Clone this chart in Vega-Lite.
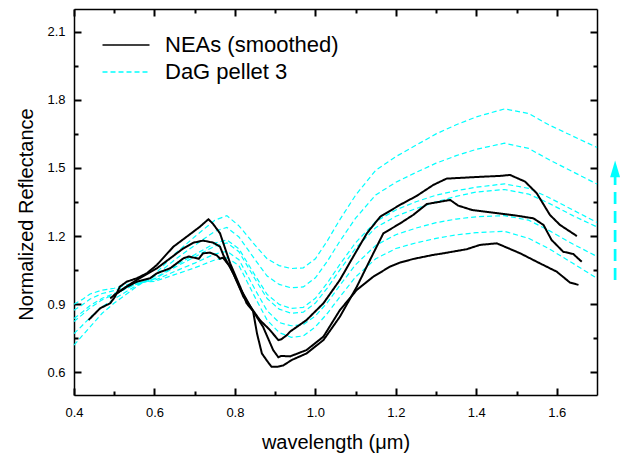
{
  "$schema": "https://vega.github.io/schema/vega-lite/v6.json",
  "width": 523,
  "height": 386,
  "autosize": "none",
  "padding": {"left": 74, "top": 9, "right": 31, "bottom": 58},
  "background": "white",
  "config": {"view": {"stroke": null}, "font": "Liberation Sans"},
  "datasets": {
    "lines": [
      {"series":"DaG pellet 3","curve":"C1","w":0.40,"r":0.72},{"series":"DaG pellet 3","curve":"C1","w":0.42,"r":0.76},{"series":"DaG pellet 3","curve":"C1","w":0.44,"r":0.80},{"series":"DaG pellet 3","curve":"C1","w":0.47,"r":0.86},{"series":"DaG pellet 3","curve":"C1","w":0.50,"r":0.905},{"series":"DaG pellet 3","curve":"C1","w":0.55,"r":0.97},{"series":"DaG pellet 3","curve":"C1","w":0.60,"r":1.03},{"series":"DaG pellet 3","curve":"C1","w":0.65,"r":1.12},{"series":"DaG pellet 3","curve":"C1","w":0.70,"r":1.197},{"series":"DaG pellet 3","curve":"C1","w":0.75,"r":1.27},{"series":"DaG pellet 3","curve":"C1","w":0.78,"r":1.29},{"series":"DaG pellet 3","curve":"C1","w":0.81,"r":1.245},{"series":"DaG pellet 3","curve":"C1","w":0.85,"r":1.16},{"series":"DaG pellet 3","curve":"C1","w":0.88,"r":1.10},{"series":"DaG pellet 3","curve":"C1","w":0.91,"r":1.07},{"series":"DaG pellet 3","curve":"C1","w":0.94,"r":1.057},{"series":"DaG pellet 3","curve":"C1","w":0.97,"r":1.06},{"series":"DaG pellet 3","curve":"C1","w":1.00,"r":1.10},{"series":"DaG pellet 3","curve":"C1","w":1.03,"r":1.18},{"series":"DaG pellet 3","curve":"C1","w":1.06,"r":1.27},{"series":"DaG pellet 3","curve":"C1","w":1.10,"r":1.38},{"series":"DaG pellet 3","curve":"C1","w":1.15,"r":1.49},{"series":"DaG pellet 3","curve":"C1","w":1.20,"r":1.55},{"series":"DaG pellet 3","curve":"C1","w":1.25,"r":1.60},{"series":"DaG pellet 3","curve":"C1","w":1.30,"r":1.65},{"series":"DaG pellet 3","curve":"C1","w":1.35,"r":1.69},{"series":"DaG pellet 3","curve":"C1","w":1.40,"r":1.725},{"series":"DaG pellet 3","curve":"C1","w":1.47,"r":1.76},{"series":"DaG pellet 3","curve":"C1","w":1.53,"r":1.74},{"series":"DaG pellet 3","curve":"C1","w":1.58,"r":1.69},{"series":"DaG pellet 3","curve":"C1","w":1.64,"r":1.64},{"series":"DaG pellet 3","curve":"C1","w":1.70,"r":1.59},
      {"series":"DaG pellet 3","curve":"C2","w":0.40,"r":0.77},{"series":"DaG pellet 3","curve":"C2","w":0.42,"r":0.805},{"series":"DaG pellet 3","curve":"C2","w":0.44,"r":0.841},{"series":"DaG pellet 3","curve":"C2","w":0.47,"r":0.889},{"series":"DaG pellet 3","curve":"C2","w":0.50,"r":0.923},{"series":"DaG pellet 3","curve":"C2","w":0.55,"r":0.977},{"series":"DaG pellet 3","curve":"C2","w":0.60,"r":1.022},{"series":"DaG pellet 3","curve":"C2","w":0.65,"r":1.095},{"series":"DaG pellet 3","curve":"C2","w":0.70,"r":1.159},{"series":"DaG pellet 3","curve":"C2","w":0.75,"r":1.221},{"series":"DaG pellet 3","curve":"C2","w":0.78,"r":1.238},{"series":"DaG pellet 3","curve":"C2","w":0.81,"r":1.196},{"series":"DaG pellet 3","curve":"C2","w":0.85,"r":1.096},{"series":"DaG pellet 3","curve":"C2","w":0.88,"r":1.024},{"series":"DaG pellet 3","curve":"C2","w":0.91,"r":0.987},{"series":"DaG pellet 3","curve":"C2","w":0.94,"r":0.972},{"series":"DaG pellet 3","curve":"C2","w":0.97,"r":0.976},{"series":"DaG pellet 3","curve":"C2","w":1.00,"r":1.016},{"series":"DaG pellet 3","curve":"C2","w":1.03,"r":1.09},{"series":"DaG pellet 3","curve":"C2","w":1.06,"r":1.175},{"series":"DaG pellet 3","curve":"C2","w":1.10,"r":1.279},{"series":"DaG pellet 3","curve":"C2","w":1.15,"r":1.381},{"series":"DaG pellet 3","curve":"C2","w":1.20,"r":1.437},{"series":"DaG pellet 3","curve":"C2","w":1.25,"r":1.48},{"series":"DaG pellet 3","curve":"C2","w":1.30,"r":1.521},{"series":"DaG pellet 3","curve":"C2","w":1.35,"r":1.554},{"series":"DaG pellet 3","curve":"C2","w":1.40,"r":1.582},{"series":"DaG pellet 3","curve":"C2","w":1.47,"r":1.609},{"series":"DaG pellet 3","curve":"C2","w":1.53,"r":1.586},{"series":"DaG pellet 3","curve":"C2","w":1.58,"r":1.537},{"series":"DaG pellet 3","curve":"C2","w":1.64,"r":1.483},{"series":"DaG pellet 3","curve":"C2","w":1.70,"r":1.429},
      {"series":"DaG pellet 3","curve":"C3","w":0.40,"r":0.824},{"series":"DaG pellet 3","curve":"C3","w":0.42,"r":0.853},{"series":"DaG pellet 3","curve":"C3","w":0.44,"r":0.884},{"series":"DaG pellet 3","curve":"C3","w":0.47,"r":0.919},{"series":"DaG pellet 3","curve":"C3","w":0.50,"r":0.943},{"series":"DaG pellet 3","curve":"C3","w":0.55,"r":0.985},{"series":"DaG pellet 3","curve":"C3","w":0.60,"r":1.013},{"series":"DaG pellet 3","curve":"C3","w":0.65,"r":1.068},{"series":"DaG pellet 3","curve":"C3","w":0.70,"r":1.118},{"series":"DaG pellet 3","curve":"C3","w":0.75,"r":1.169},{"series":"DaG pellet 3","curve":"C3","w":0.78,"r":1.183},{"series":"DaG pellet 3","curve":"C3","w":0.81,"r":1.144},{"series":"DaG pellet 3","curve":"C3","w":0.85,"r":1.027},{"series":"DaG pellet 3","curve":"C3","w":0.88,"r":0.943},{"series":"DaG pellet 3","curve":"C3","w":0.91,"r":0.899},{"series":"DaG pellet 3","curve":"C3","w":0.94,"r":0.881},{"series":"DaG pellet 3","curve":"C3","w":0.97,"r":0.886},{"series":"DaG pellet 3","curve":"C3","w":1.00,"r":0.926},{"series":"DaG pellet 3","curve":"C3","w":1.03,"r":0.994},{"series":"DaG pellet 3","curve":"C3","w":1.06,"r":1.073},{"series":"DaG pellet 3","curve":"C3","w":1.10,"r":1.171},{"series":"DaG pellet 3","curve":"C3","w":1.15,"r":1.264},{"series":"DaG pellet 3","curve":"C3","w":1.20,"r":1.315},{"series":"DaG pellet 3","curve":"C3","w":1.25,"r":1.351},{"series":"DaG pellet 3","curve":"C3","w":1.30,"r":1.38},{"series":"DaG pellet 3","curve":"C3","w":1.35,"r":1.40},{"series":"DaG pellet 3","curve":"C3","w":1.40,"r":1.415},{"series":"DaG pellet 3","curve":"C3","w":1.47,"r":1.43},{"series":"DaG pellet 3","curve":"C3","w":1.53,"r":1.41},{"series":"DaG pellet 3","curve":"C3","w":1.58,"r":1.37},{"series":"DaG pellet 3","curve":"C3","w":1.64,"r":1.315},{"series":"DaG pellet 3","curve":"C3","w":1.70,"r":1.26},
      {"series":"DaG pellet 3","curve":"C4","w":0.40,"r":0.837},{"series":"DaG pellet 3","curve":"C4","w":0.42,"r":0.864},{"series":"DaG pellet 3","curve":"C4","w":0.44,"r":0.894},{"series":"DaG pellet 3","curve":"C4","w":0.47,"r":0.926},{"series":"DaG pellet 3","curve":"C4","w":0.50,"r":0.947},{"series":"DaG pellet 3","curve":"C4","w":0.55,"r":0.986},{"series":"DaG pellet 3","curve":"C4","w":0.60,"r":1.011},{"series":"DaG pellet 3","curve":"C4","w":0.65,"r":1.062},{"series":"DaG pellet 3","curve":"C4","w":0.70,"r":1.108},{"series":"DaG pellet 3","curve":"C4","w":0.75,"r":1.156},{"series":"DaG pellet 3","curve":"C4","w":0.78,"r":1.17},{"series":"DaG pellet 3","curve":"C4","w":0.81,"r":1.131},{"series":"DaG pellet 3","curve":"C4","w":0.85,"r":1.011},{"series":"DaG pellet 3","curve":"C4","w":0.88,"r":0.925},{"series":"DaG pellet 3","curve":"C4","w":0.91,"r":0.878},{"series":"DaG pellet 3","curve":"C4","w":0.94,"r":0.86},{"series":"DaG pellet 3","curve":"C4","w":0.97,"r":0.865},{"series":"DaG pellet 3","curve":"C4","w":1.00,"r":0.905},{"series":"DaG pellet 3","curve":"C4","w":1.03,"r":0.972},{"series":"DaG pellet 3","curve":"C4","w":1.06,"r":1.049},{"series":"DaG pellet 3","curve":"C4","w":1.10,"r":1.146},{"series":"DaG pellet 3","curve":"C4","w":1.15,"r":1.237},{"series":"DaG pellet 3","curve":"C4","w":1.20,"r":1.287},{"series":"DaG pellet 3","curve":"C4","w":1.25,"r":1.321},{"series":"DaG pellet 3","curve":"C4","w":1.30,"r":1.351},{"series":"DaG pellet 3","curve":"C4","w":1.35,"r":1.375},{"series":"DaG pellet 3","curve":"C4","w":1.40,"r":1.394},{"series":"DaG pellet 3","curve":"C4","w":1.47,"r":1.405},{"series":"DaG pellet 3","curve":"C4","w":1.53,"r":1.385},{"series":"DaG pellet 3","curve":"C4","w":1.58,"r":1.345},{"series":"DaG pellet 3","curve":"C4","w":1.64,"r":1.29},{"series":"DaG pellet 3","curve":"C4","w":1.70,"r":1.24},
      {"series":"DaG pellet 3","curve":"C5","w":0.40,"r":0.873},{"series":"DaG pellet 3","curve":"C5","w":0.42,"r":0.896},{"series":"DaG pellet 3","curve":"C5","w":0.44,"r":0.923},{"series":"DaG pellet 3","curve":"C5","w":0.47,"r":0.947},{"series":"DaG pellet 3","curve":"C5","w":0.50,"r":0.96},{"series":"DaG pellet 3","curve":"C5","w":0.55,"r":0.991},{"series":"DaG pellet 3","curve":"C5","w":0.60,"r":1.005},{"series":"DaG pellet 3","curve":"C5","w":0.65,"r":1.044},{"series":"DaG pellet 3","curve":"C5","w":0.70,"r":1.081},{"series":"DaG pellet 3","curve":"C5","w":0.75,"r":1.121},{"series":"DaG pellet 3","curve":"C5","w":0.78,"r":1.133},{"series":"DaG pellet 3","curve":"C5","w":0.81,"r":1.096},{"series":"DaG pellet 3","curve":"C5","w":0.85,"r":0.965},{"series":"DaG pellet 3","curve":"C5","w":0.88,"r":0.871},{"series":"DaG pellet 3","curve":"C5","w":0.91,"r":0.819},{"series":"DaG pellet 3","curve":"C5","w":0.94,"r":0.805},{"series":"DaG pellet 3","curve":"C5","w":0.97,"r":0.81},{"series":"DaG pellet 3","curve":"C5","w":1.00,"r":0.848},{"series":"DaG pellet 3","curve":"C5","w":1.03,"r":0.908},{"series":"DaG pellet 3","curve":"C5","w":1.06,"r":0.981},{"series":"DaG pellet 3","curve":"C5","w":1.10,"r":1.074},{"series":"DaG pellet 3","curve":"C5","w":1.15,"r":1.159},{"series":"DaG pellet 3","curve":"C5","w":1.20,"r":1.206},{"series":"DaG pellet 3","curve":"C5","w":1.25,"r":1.235},{"series":"DaG pellet 3","curve":"C5","w":1.30,"r":1.259},{"series":"DaG pellet 3","curve":"C5","w":1.35,"r":1.275},{"series":"DaG pellet 3","curve":"C5","w":1.40,"r":1.285},{"series":"DaG pellet 3","curve":"C5","w":1.47,"r":1.29},{"series":"DaG pellet 3","curve":"C5","w":1.53,"r":1.27},{"series":"DaG pellet 3","curve":"C5","w":1.58,"r":1.225},{"series":"DaG pellet 3","curve":"C5","w":1.64,"r":1.165},{"series":"DaG pellet 3","curve":"C5","w":1.70,"r":1.11},
      {"series":"DaG pellet 3","curve":"C6","w":0.40,"r":0.90},{"series":"DaG pellet 3","curve":"C6","w":0.42,"r":0.92},{"series":"DaG pellet 3","curve":"C6","w":0.44,"r":0.945},{"series":"DaG pellet 3","curve":"C6","w":0.47,"r":0.962},{"series":"DaG pellet 3","curve":"C6","w":0.50,"r":0.97},{"series":"DaG pellet 3","curve":"C6","w":0.55,"r":0.995},{"series":"DaG pellet 3","curve":"C6","w":0.60,"r":1.00},{"series":"DaG pellet 3","curve":"C6","w":0.65,"r":1.03},{"series":"DaG pellet 3","curve":"C6","w":0.70,"r":1.06},{"series":"DaG pellet 3","curve":"C6","w":0.75,"r":1.095},{"series":"DaG pellet 3","curve":"C6","w":0.78,"r":1.105},{"series":"DaG pellet 3","curve":"C6","w":0.81,"r":1.07},{"series":"DaG pellet 3","curve":"C6","w":0.85,"r":0.93},{"series":"DaG pellet 3","curve":"C6","w":0.88,"r":0.83},{"series":"DaG pellet 3","curve":"C6","w":0.91,"r":0.775},{"series":"DaG pellet 3","curve":"C6","w":0.94,"r":0.754},{"series":"DaG pellet 3","curve":"C6","w":0.97,"r":0.76},{"series":"DaG pellet 3","curve":"C6","w":1.00,"r":0.80},{"series":"DaG pellet 3","curve":"C6","w":1.03,"r":0.86},{"series":"DaG pellet 3","curve":"C6","w":1.06,"r":0.93},{"series":"DaG pellet 3","curve":"C6","w":1.10,"r":1.02},{"series":"DaG pellet 3","curve":"C6","w":1.15,"r":1.10},{"series":"DaG pellet 3","curve":"C6","w":1.20,"r":1.145},{"series":"DaG pellet 3","curve":"C6","w":1.25,"r":1.17},{"series":"DaG pellet 3","curve":"C6","w":1.30,"r":1.19},{"series":"DaG pellet 3","curve":"C6","w":1.35,"r":1.205},{"series":"DaG pellet 3","curve":"C6","w":1.40,"r":1.215},{"series":"DaG pellet 3","curve":"C6","w":1.47,"r":1.221},{"series":"DaG pellet 3","curve":"C6","w":1.53,"r":1.19},{"series":"DaG pellet 3","curve":"C6","w":1.58,"r":1.145},{"series":"DaG pellet 3","curve":"C6","w":1.64,"r":1.08},{"series":"DaG pellet 3","curve":"C6","w":1.70,"r":1.014},
      {"series":"NEAs (smoothed)","curve":"N1","w":0.436,"r":0.83},{"series":"NEAs (smoothed)","curve":"N1","w":0.45,"r":0.855},{"series":"NEAs (smoothed)","curve":"N1","w":0.465,"r":0.882},{"series":"NEAs (smoothed)","curve":"N1","w":0.49,"r":0.904},{"series":"NEAs (smoothed)","curve":"N1","w":0.502,"r":0.933},{"series":"NEAs (smoothed)","curve":"N1","w":0.514,"r":0.977},{"series":"NEAs (smoothed)","curve":"N1","w":0.531,"r":0.999},{"series":"NEAs (smoothed)","curve":"N1","w":0.556,"r":1.014},{"series":"NEAs (smoothed)","curve":"N1","w":0.581,"r":1.036},{"series":"NEAs (smoothed)","curve":"N1","w":0.606,"r":1.073},{"series":"NEAs (smoothed)","curve":"N1","w":0.647,"r":1.153},{"series":"NEAs (smoothed)","curve":"N1","w":0.68,"r":1.197},{"series":"NEAs (smoothed)","curve":"N1","w":0.713,"r":1.241},{"series":"NEAs (smoothed)","curve":"N1","w":0.734,"r":1.274},{"series":"NEAs (smoothed)","curve":"N1","w":0.745,"r":1.255},{"series":"NEAs (smoothed)","curve":"N1","w":0.763,"r":1.212},{"series":"NEAs (smoothed)","curve":"N1","w":0.788,"r":1.08},{"series":"NEAs (smoothed)","curve":"N1","w":0.813,"r":0.977},{"series":"NEAs (smoothed)","curve":"N1","w":0.829,"r":0.904},{"series":"NEAs (smoothed)","curve":"N1","w":0.845,"r":0.87},{"series":"NEAs (smoothed)","curve":"N1","w":0.855,"r":0.77},{"series":"NEAs (smoothed)","curve":"N1","w":0.867,"r":0.683},{"series":"NEAs (smoothed)","curve":"N1","w":0.88,"r":0.65},{"series":"NEAs (smoothed)","curve":"N1","w":0.891,"r":0.624},{"series":"NEAs (smoothed)","curve":"N1","w":0.908,"r":0.625},{"series":"NEAs (smoothed)","curve":"N1","w":0.92,"r":0.63},{"series":"NEAs (smoothed)","curve":"N1","w":0.941,"r":0.654},{"series":"NEAs (smoothed)","curve":"N1","w":0.978,"r":0.683},{"series":"NEAs (smoothed)","curve":"N1","w":1.02,"r":0.742},{"series":"NEAs (smoothed)","curve":"N1","w":1.061,"r":0.845},{"series":"NEAs (smoothed)","curve":"N1","w":1.103,"r":0.977},{"series":"NEAs (smoothed)","curve":"N1","w":1.144,"r":1.124},{"series":"NEAs (smoothed)","curve":"N1","w":1.169,"r":1.212},{"series":"NEAs (smoothed)","curve":"N1","w":1.21,"r":1.255},{"series":"NEAs (smoothed)","curve":"N1","w":1.243,"r":1.293},{"series":"NEAs (smoothed)","curve":"N1","w":1.277,"r":1.341},{"series":"NEAs (smoothed)","curve":"N1","w":1.335,"r":1.359},{"series":"NEAs (smoothed)","curve":"N1","w":1.355,"r":1.334},{"series":"NEAs (smoothed)","curve":"N1","w":1.389,"r":1.315},{"series":"NEAs (smoothed)","curve":"N1","w":1.442,"r":1.303},{"series":"NEAs (smoothed)","curve":"N1","w":1.50,"r":1.29},{"series":"NEAs (smoothed)","curve":"N1","w":1.542,"r":1.278},{"series":"NEAs (smoothed)","curve":"N1","w":1.567,"r":1.249},{"series":"NEAs (smoothed)","curve":"N1","w":1.587,"r":1.183},{"series":"NEAs (smoothed)","curve":"N1","w":1.616,"r":1.131},{"series":"NEAs (smoothed)","curve":"N1","w":1.641,"r":1.121},{"series":"NEAs (smoothed)","curve":"N1","w":1.662,"r":1.087},
      {"series":"NEAs (smoothed)","curve":"N2","w":0.49,"r":0.925},{"series":"NEAs (smoothed)","curve":"N2","w":0.50,"r":0.94},{"series":"NEAs (smoothed)","curve":"N2","w":0.52,"r":0.965},{"series":"NEAs (smoothed)","curve":"N2","w":0.556,"r":1.007},{"series":"NEAs (smoothed)","curve":"N2","w":0.606,"r":1.058},{"series":"NEAs (smoothed)","curve":"N2","w":0.639,"r":1.102},{"series":"NEAs (smoothed)","curve":"N2","w":0.672,"r":1.146},{"series":"NEAs (smoothed)","curve":"N2","w":0.697,"r":1.171},{"series":"NEAs (smoothed)","curve":"N2","w":0.721,"r":1.18},{"series":"NEAs (smoothed)","curve":"N2","w":0.746,"r":1.171},{"series":"NEAs (smoothed)","curve":"N2","w":0.763,"r":1.153},{"series":"NEAs (smoothed)","curve":"N2","w":0.771,"r":1.117},{"series":"NEAs (smoothed)","curve":"N2","w":0.796,"r":1.036},{"series":"NEAs (smoothed)","curve":"N2","w":0.821,"r":0.933},{"series":"NEAs (smoothed)","curve":"N2","w":0.838,"r":0.89},{"series":"NEAs (smoothed)","curve":"N2","w":0.862,"r":0.83},{"series":"NEAs (smoothed)","curve":"N2","w":0.885,"r":0.79},{"series":"NEAs (smoothed)","curve":"N2","w":0.908,"r":0.742},{"series":"NEAs (smoothed)","curve":"N2","w":0.915,"r":0.745},{"series":"NEAs (smoothed)","curve":"N2","w":0.93,"r":0.765},{"series":"NEAs (smoothed)","curve":"N2","w":0.937,"r":0.779},{"series":"NEAs (smoothed)","curve":"N2","w":0.978,"r":0.83},{"series":"NEAs (smoothed)","curve":"N2","w":1.02,"r":0.904},{"series":"NEAs (smoothed)","curve":"N2","w":1.061,"r":1.007},{"series":"NEAs (smoothed)","curve":"N2","w":1.094,"r":1.109},{"series":"NEAs (smoothed)","curve":"N2","w":1.128,"r":1.212},{"series":"NEAs (smoothed)","curve":"N2","w":1.161,"r":1.285},{"series":"NEAs (smoothed)","curve":"N2","w":1.21,"r":1.337},{"series":"NEAs (smoothed)","curve":"N2","w":1.252,"r":1.377},{"series":"NEAs (smoothed)","curve":"N2","w":1.293,"r":1.425},{"series":"NEAs (smoothed)","curve":"N2","w":1.326,"r":1.453},{"series":"NEAs (smoothed)","curve":"N2","w":1.40,"r":1.46},{"series":"NEAs (smoothed)","curve":"N2","w":1.459,"r":1.465},{"series":"NEAs (smoothed)","curve":"N2","w":1.484,"r":1.469},{"series":"NEAs (smoothed)","curve":"N2","w":1.521,"r":1.44},{"series":"NEAs (smoothed)","curve":"N2","w":1.55,"r":1.389},{"series":"NEAs (smoothed)","curve":"N2","w":1.583,"r":1.293},{"series":"NEAs (smoothed)","curve":"N2","w":1.608,"r":1.249},{"series":"NEAs (smoothed)","curve":"N2","w":1.65,"r":1.20},
      {"series":"NEAs (smoothed)","curve":"N3","w":0.50,"r":0.94},{"series":"NEAs (smoothed)","curve":"N3","w":0.53,"r":0.975},{"series":"NEAs (smoothed)","curve":"N3","w":0.556,"r":0.999},{"series":"NEAs (smoothed)","curve":"N3","w":0.589,"r":1.014},{"series":"NEAs (smoothed)","curve":"N3","w":0.606,"r":1.036},{"series":"NEAs (smoothed)","curve":"N3","w":0.639,"r":1.058},{"series":"NEAs (smoothed)","curve":"N3","w":0.672,"r":1.102},{"series":"NEAs (smoothed)","curve":"N3","w":0.685,"r":1.11},{"series":"NEAs (smoothed)","curve":"N3","w":0.71,"r":1.10},{"series":"NEAs (smoothed)","curve":"N3","w":0.721,"r":1.124},{"series":"NEAs (smoothed)","curve":"N3","w":0.738,"r":1.127},{"series":"NEAs (smoothed)","curve":"N3","w":0.755,"r":1.115},{"series":"NEAs (smoothed)","curve":"N3","w":0.763,"r":1.10},{"series":"NEAs (smoothed)","curve":"N3","w":0.77,"r":1.105},{"series":"NEAs (smoothed)","curve":"N3","w":0.788,"r":1.065},{"series":"NEAs (smoothed)","curve":"N3","w":0.813,"r":0.97},{"series":"NEAs (smoothed)","curve":"N3","w":0.845,"r":0.87},{"series":"NEAs (smoothed)","curve":"N3","w":0.87,"r":0.80},{"series":"NEAs (smoothed)","curve":"N3","w":0.895,"r":0.698},{"series":"NEAs (smoothed)","curve":"N3","w":0.908,"r":0.666},{"series":"NEAs (smoothed)","curve":"N3","w":0.915,"r":0.672},{"series":"NEAs (smoothed)","curve":"N3","w":0.937,"r":0.67},{"series":"NEAs (smoothed)","curve":"N3","w":0.978,"r":0.698},{"series":"NEAs (smoothed)","curve":"N3","w":1.02,"r":0.757},{"series":"NEAs (smoothed)","curve":"N3","w":1.061,"r":0.874},{"series":"NEAs (smoothed)","curve":"N3","w":1.103,"r":0.963},{"series":"NEAs (smoothed)","curve":"N3","w":1.144,"r":1.021},{"series":"NEAs (smoothed)","curve":"N3","w":1.185,"r":1.065},{"series":"NEAs (smoothed)","curve":"N3","w":1.21,"r":1.083},{"series":"NEAs (smoothed)","curve":"N3","w":1.243,"r":1.099},{"series":"NEAs (smoothed)","curve":"N3","w":1.293,"r":1.117},{"series":"NEAs (smoothed)","curve":"N3","w":1.318,"r":1.124},{"series":"NEAs (smoothed)","curve":"N3","w":1.376,"r":1.142},{"series":"NEAs (smoothed)","curve":"N3","w":1.409,"r":1.161},{"series":"NEAs (smoothed)","curve":"N3","w":1.451,"r":1.168},{"series":"NEAs (smoothed)","curve":"N3","w":1.509,"r":1.124},{"series":"NEAs (smoothed)","curve":"N3","w":1.558,"r":1.08},{"series":"NEAs (smoothed)","curve":"N3","w":1.60,"r":1.043},{"series":"NEAs (smoothed)","curve":"N3","w":1.633,"r":0.995},{"series":"NEAs (smoothed)","curve":"N3","w":1.654,"r":0.985}
    ],
    "shaft": [{"w": 1.745, "r": 1.007, "r2": 1.46}],
    "head": [{"w": 1.745, "r": 1.496}],
    "none": []
  },
  "layer": [
    {
      "data": {"name": "lines"},
      "transform": [{"filter": "datum.series === 'DaG pellet 3'"}],
      "mark": {"type": "line", "interpolate": "linear", "strokeWidth": 1.2},
      "encoding": {
        "x": {"field": "w", "type": "quantitative",
          "scale": {"domain": [0.4, 1.7], "nice": false, "zero": false},
          "axis": {"orient": "bottom", "values": [0.4, 0.6, 0.8, 1.0, 1.2, 1.4, 1.6], "format": ".1f",
            "ticks": false, "grid": false, "domain": true, "domainColor": "black", "domainWidth": 1.5,
            "labelFont": "Liberation Sans", "labelFontSize": 13, "labelColor": "black", "labelPadding": 11,
            "labelFlush": false, "labelOverlap": false,
            "title": "wavelength (μm)", "titleFont": "Liberation Sans", "titleFontSize": 20, "titleFontWeight": "normal",
            "titleColor": "black", "titleBaseline": "alphabetic", "titleY": 53}},
        "y": {"field": "r", "type": "quantitative",
          "scale": {"domain": [0.5, 2.2], "nice": false, "zero": false},
          "axis": {"orient": "left", "values": [0.6, 0.9, 1.2, 1.5, 1.8, 2.1], "format": ".1f",
            "ticks": false, "grid": false, "domain": true, "domainColor": "black", "domainWidth": 1.5,
            "labelFont": "Liberation Sans", "labelFontSize": 13, "labelColor": "black", "labelPadding": 9,
            "labelFlush": false, "labelOverlap": false,
            "title": "Normalized Reflectance", "titleFont": "Liberation Sans", "titleFontSize": 20, "titleFontWeight": "normal",
            "titleColor": "black", "titleBaseline": "alphabetic", "titleAngle": 270, "titleX": -42, "titleY": 205}},
        "color": {"field": "series", "type": "nominal",
          "scale": {"domain": ["NEAs (smoothed)", "DaG pellet 3"], "range": ["#000000", "#00FFFF"]},
          "legend": {"title": null, "orient": "none", "legendX": 41, "legendY": 25, "padding": 0,
            "labelFont": "Liberation Sans", "labelFontSize": 22, "labelColor": "black", "labelOffset": 28, "labelLimit": 0,
            "symbolType": "M-4,0H4", "symbolSize": 138, "symbolStrokeWidth": 1.6, "rowPadding": 5}},
        "strokeDash": {"field": "series", "type": "nominal",
          "scale": {"domain": ["NEAs (smoothed)", "DaG pellet 3"], "range": [[1, 0], [5, 3]]},
          "legend": {"title": null, "orient": "none", "legendX": 41, "legendY": 25, "padding": 0,
            "labelFont": "Liberation Sans", "labelFontSize": 22, "labelColor": "black", "labelOffset": 28, "labelLimit": 0,
            "symbolType": "M-4,0H4", "symbolSize": 138, "symbolStrokeWidth": 1.6, "rowPadding": 5}},
        "detail": {"field": "curve", "type": "nominal"}
      }
    },
    {
      "data": {"name": "lines"},
      "transform": [{"filter": "datum.series === 'NEAs (smoothed)'"}],
      "mark": {"type": "line", "interpolate": "linear", "strokeWidth": 2},
      "encoding": {
        "x": {"field": "w", "type": "quantitative",
          "scale": {"domain": [0.4, 1.7], "nice": false, "zero": false},
          "axis": {"orient": "bottom", "values": [0.4, 0.6, 0.8, 1.0, 1.2, 1.4, 1.6], "labels": false, "domain": false, "grid": false,
            "ticks": true, "tickSize": -7, "tickWidth": 2, "tickColor": "black", "title": null}},
        "y": {"field": "r", "type": "quantitative",
          "scale": {"domain": [0.5, 2.2], "nice": false, "zero": false},
          "axis": {"orient": "left", "values": [0.6, 0.9, 1.2, 1.5, 1.8, 2.1], "labels": false, "domain": false, "grid": false,
            "ticks": true, "tickSize": -7, "tickWidth": 2, "tickColor": "black", "title": null}},
        "color": {"field": "series", "type": "nominal",
          "scale": {"domain": ["NEAs (smoothed)", "DaG pellet 3"], "range": ["#000000", "#00FFFF"]},
          "legend": {"title": null, "orient": "none", "legendX": 41, "legendY": 25, "padding": 0,
            "labelFont": "Liberation Sans", "labelFontSize": 22, "labelColor": "black", "labelOffset": 28, "labelLimit": 0,
            "symbolType": "M-4,0H4", "symbolSize": 138, "symbolStrokeWidth": 1.6, "rowPadding": 5}},
        "strokeDash": {"field": "series", "type": "nominal",
          "scale": {"domain": ["NEAs (smoothed)", "DaG pellet 3"], "range": [[1, 0], [5, 3]]},
          "legend": {"title": null, "orient": "none", "legendX": 41, "legendY": 25, "padding": 0,
            "labelFont": "Liberation Sans", "labelFontSize": 22, "labelColor": "black", "labelOffset": 28, "labelLimit": 0,
            "symbolType": "M-4,0H4", "symbolSize": 138, "symbolStrokeWidth": 1.6, "rowPadding": 5}},
        "detail": {"field": "curve", "type": "nominal"}
      }
    },
    {
      "data": {"name": "shaft"},
      "mark": {"type": "rule", "color": "#00FFFF", "strokeWidth": 2.7, "strokeDash": [12, 7], "clip": false},
      "encoding": {
        "x": {"field": "w", "type": "quantitative",
          "scale": {"domain": [0.4, 1.7], "nice": false, "zero": false},
          "axis": {"orient": "bottom", "values": [0.5, 0.7, 0.9, 1.1, 1.3, 1.5], "labels": false, "domain": false, "grid": false,
            "ticks": true, "tickSize": -4, "tickWidth": 2, "tickColor": "black", "title": null}},
        "y": {"field": "r", "type": "quantitative",
          "scale": {"domain": [0.5, 2.2], "nice": false, "zero": false},
          "axis": {"orient": "left", "values": [0.75, 1.05, 1.35, 1.65, 1.95], "labels": false, "domain": false, "grid": false,
            "ticks": true, "tickSize": -4, "tickWidth": 2, "tickColor": "black", "title": null}},
        "y2": {"field": "r2"}
      }
    },
    {
      "data": {"name": "head"},
      "mark": {"type": "point", "shape": "M0,-1L0.6,1L-0.6,1Z", "size": 276, "filled": true, "color": "#00FFFF", "opacity": 1, "clip": false},
      "encoding": {
        "x": {"field": "w", "type": "quantitative",
          "scale": {"domain": [0.4, 1.7], "nice": false, "zero": false},
          "axis": {"orient": "top", "values": [0.4, 0.6, 0.8, 1.0, 1.2, 1.4, 1.6], "labels": false, "domain": true, "domainColor": "black", "domainWidth": 1.5, "grid": false,
            "ticks": true, "tickSize": -7, "tickWidth": 2, "tickColor": "black", "title": null}},
        "y": {"field": "r", "type": "quantitative",
          "scale": {"domain": [0.5, 2.2], "nice": false, "zero": false},
          "axis": {"orient": "right", "values": [0.6, 0.9, 1.2, 1.5, 1.8, 2.1], "labels": false, "domain": true, "domainColor": "black", "domainWidth": 1.5, "grid": false,
            "ticks": true, "tickSize": -7, "tickWidth": 2, "tickColor": "black", "title": null}}
      }
    },
    {
      "data": {"name": "none"},
      "mark": {"type": "point", "opacity": 0},
      "encoding": {
        "x": {"field": "w", "type": "quantitative",
          "scale": {"domain": [0.4, 1.7], "nice": false, "zero": false},
          "axis": {"orient": "top", "values": [0.5, 0.7, 0.9, 1.1, 1.3, 1.5], "labels": false, "domain": false, "grid": false,
            "ticks": true, "tickSize": -4, "tickWidth": 2, "tickColor": "black", "title": null}},
        "y": {"field": "r", "type": "quantitative",
          "scale": {"domain": [0.5, 2.2], "nice": false, "zero": false},
          "axis": {"orient": "right", "values": [0.75, 1.05, 1.35, 1.65, 1.95], "labels": false, "domain": false, "grid": false,
            "ticks": true, "tickSize": -4, "tickWidth": 2, "tickColor": "black", "title": null}}
      }
    }
  ],
  "resolve": {"axis": {"x": "independent", "y": "independent"}}
}
